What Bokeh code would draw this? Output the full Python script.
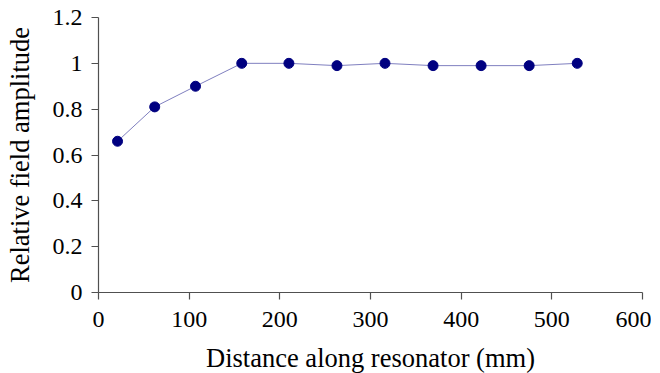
from bokeh.plotting import figure
from bokeh.models import FixedTicker, Range1d
from bokeh.embed import file_html
from bokeh.resources import INLINE

# Data
distance_mm = [21, 62, 107, 158, 210, 263, 316, 369, 422, 475, 528]
rel_amplitude = [0.66, 0.81, 0.90, 1.00, 1.00, 0.99, 1.00, 0.99, 0.99, 0.99, 1.00]

x_ticks = [0, 100, 200, 300, 400, 500, 600]
y_ticks = [0, 0.2, 0.4, 0.6, 0.8, 1.0, 1.2]
y_tick_labels = ["0", "0.2", "0.4", "0.6", "0.8", "1", "1.2"]

x_label = "Distance along resonator (mm)"
y_label = "Relative field amplitude"

FONT = "Liberation Serif"

p = figure(
    frame_width=544, frame_height=275,
    min_border_left=98, min_border_right=9, min_border_top=17, min_border_bottom=72,
    output_backend="svg", toolbar_location=None,
    x_range=Range1d(0, 600), y_range=Range1d(0, 1.2),
)
p.outline_line_color = None
p.xgrid.grid_line_color = None
p.ygrid.grid_line_color = None
p.background_fill_color = "white"
p.border_fill_color = "white"

p.line(distance_mm, rel_amplitude, line_color="#000080", line_alpha=0.5, line_width=1)
p.scatter(distance_mm, rel_amplitude, size=10, fill_color="#000080", line_color="#000080")

for ax in (p.xaxis[0], p.yaxis[0]):
    ax.axis_line_color = "#505050"
    ax.axis_line_width = 1.2
    ax.major_tick_line_color = "#505050"
    ax.major_tick_line_width = 1.2
    ax.major_tick_out = 7
    ax.major_tick_in = 0
    ax.minor_tick_line_color = None
    ax.major_label_text_font = FONT
    ax.major_label_text_font_size = "24px"
    ax.major_label_text_color = "black"
    ax.axis_label_text_font = FONT
    ax.axis_label_text_font_size = "26.5px"
    ax.axis_label_text_font_style = "normal"
    ax.axis_label_text_color = "black"

p.xaxis[0].ticker = FixedTicker(ticks=x_ticks)
p.yaxis[0].ticker = FixedTicker(ticks=y_ticks)
p.yaxis[0].major_label_overrides = {t: l for t, l in zip(y_ticks, y_tick_labels)}
p.xaxis[0].axis_label = x_label
p.yaxis[0].axis_label = y_label
p.xaxis[0].major_label_standoff = 12
p.xaxis[0].axis_label_standoff = 13
p.yaxis[0].major_label_standoff = 9
p.yaxis[0].axis_label_standoff = 15

open("out.html", "w").write(file_html(p, INLINE))
